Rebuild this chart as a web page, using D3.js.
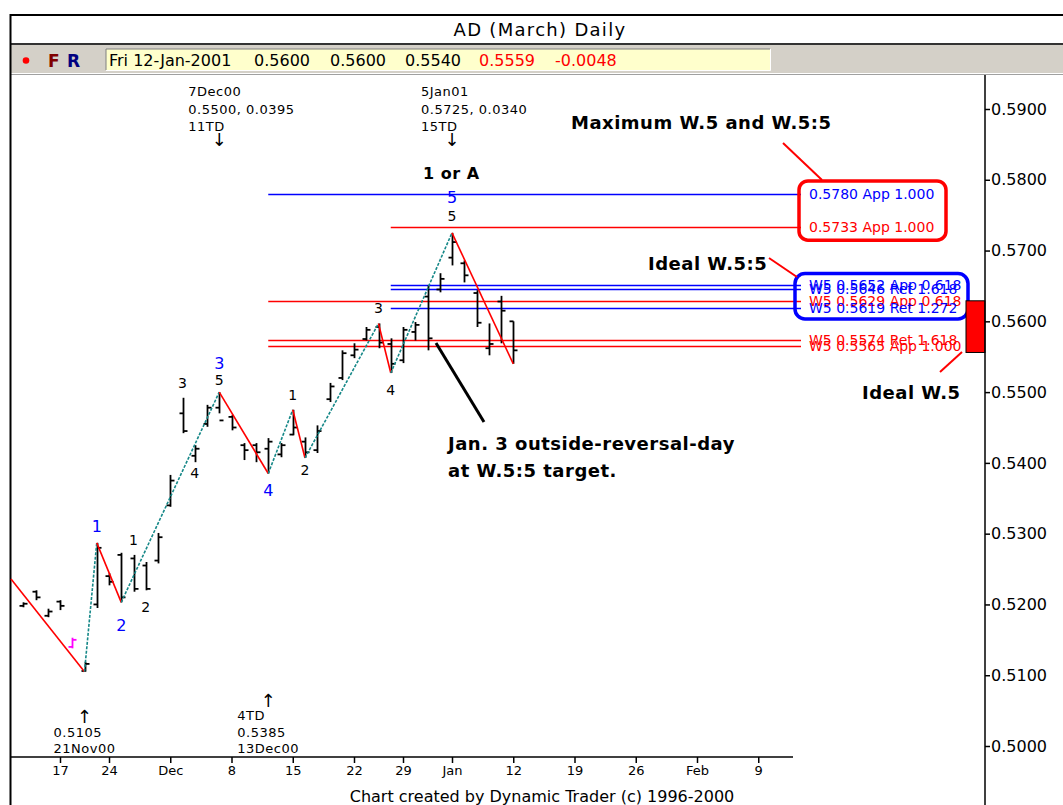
<!DOCTYPE html>
<html>
<head>
<meta charset="utf-8">
<script src="https://cdn.jsdelivr.net/npm/d3@7"></script>
<style>
body { margin: 0; background: #fff; }
svg { display: block; font-family: "DejaVu Sans", sans-serif; }
</style>
</head>
<body>
<script>
// daily bars, AD March contract
const barDates = ["2000-11-14","2000-11-15","2000-11-16","2000-11-17","2000-11-20","2000-11-21","2000-11-22","2000-11-24",
  "2000-11-27","2000-11-28","2000-11-29","2000-11-30","2000-12-01","2000-12-04","2000-12-05","2000-12-06","2000-12-07",
  "2000-12-08","2000-12-11","2000-12-12","2000-12-13","2000-12-14","2000-12-15","2000-12-18","2000-12-19","2000-12-20",
  "2000-12-21","2000-12-22","2000-12-26","2000-12-27","2000-12-28","2000-12-29","2001-01-02","2001-01-03","2001-01-04",
  "2001-01-05","2001-01-08","2001-01-09","2001-01-10","2001-01-11","2001-01-12"];
const opens  = [.5198,.5218,.5184,.5204,.5140,.5106,.5200,.5240,.5270,.5265,.5255,.5262,.5340,.5470,.5410,.5455,.5478,
  .5465,.5425,.5425,.5420,.5412,.5440,.5430,.5418,.5490,.5520,.5552,.5575,.5592,.5568,.5545,.5585,.5635,.5645,
  .5690,.5682,.5640,.5562,.5628,.5600];
const highs  = [.5203,.5220,.5194,.5206,.5153,.5119,.5287,.5244,.5273,.5270,.5260,.5301,.5383,.5492,.5425,.5482,.5500,
  .5468,.5428,.5428,.5435,.5428,.5475,.5436,.5453,.5513,.5559,.5569,.5592,.5597,.5576,.5592,.5599,.5651,.5668,
  .5725,.5686,.5644,.5597,.5636,.5600];
const lows   = [.5196,.5206,.5182,.5192,.5138,.5105,.5195,.5227,.5203,.5218,.5220,.5258,.5338,.5442,.5401,.5451,.5470,
  .5446,.5404,.5401,.5385,.5408,.5439,.5407,.5414,.5486,.5517,.5548,.5573,.5562,.5527,.5541,.5573,.5559,.5641,
  .5679,.5655,.5592,.5552,.5569,.5540];
const closes = [.5201,.5210,.5190,.5198,.5150,.5116,.5280,.5232,.5210,.5222,.5222,.5295,.5375,.5445,.5420,.5478,.5460,
  .5450,.5418,.5415,.5430,.5425,.5450,.5415,.5445,.5508,.5555,.5560,.5588,.5570,.5540,.5588,.5595,.5576,.5660,
  .5712,.5665,.5598,.5568,.5615,.5559];
const markedBar = "2000-11-20";

const holidays = ["2000-11-23","2000-12-25","2001-01-01"];

// swing zigzag
const swingDates  = ["2000-11-13","2000-11-21","2000-11-22","2000-11-27","2000-12-07","2000-12-13","2000-12-15",
  "2000-12-18","2000-12-27","2000-12-28","2001-01-05","2001-01-12"];
const swingPrices = [.5236,.5105,.5287,.5203,.5500,.5385,.5475,.5407,.5597,.5527,.5725,.5540];

// wave counts (date, price where the label sits, text, colour)
const waveDates  = ["2000-11-22","2000-11-27","2000-12-07","2000-12-13","2001-01-05",
  "2000-11-28","2000-11-29","2000-12-04","2000-12-05","2000-12-07","2000-12-15","2000-12-18","2000-12-27","2000-12-28","2001-01-05"];
const wavePrices = [.5311,.5170,.5541,.5362,.5776, .5291,.5196,.5513,.5386,.5517,.5496,.5390,.5619,.5503,.5749];
const waveTexts  = ["1","2","3","4","5", "1","2","3","4","5","1","2","3","4","5"];
const waveBlue   = [1,1,1,1,1, 0,0,0,0,0,0,0,0,0,0];

// projection levels
const levelValues = [.5780,.5733,.5652,.5646,.5629,.5619,.5574,.5565];
const levelColors = ["#0000ff","#ff0000","#0000ff","#0000ff","#ff0000","#0000ff","#ff0000","#ff0000"];
const levelStart  = ["2000-12-13","2000-12-28","2000-12-28","2000-12-28","2000-12-13","2000-12-28","2000-12-13","2000-12-13"];
const levelLabels = ["0.5780 App 1.000","0.5733 App 1.000","W5 0.5652 App 0.618","W5 0.5646 Ret 1.618",
  "W5 0.5629 App 0.618","W5 0.5619 Ret 1.272","W5 0.5574 Ret 1.618","W5 0.5565 App 1.000"];
const idealZone = [.5556, .5629];

const xTickDates  = ["2000-11-17","2000-11-24","2000-12-01","2000-12-08","2000-12-15","2000-12-22","2000-12-29",
  "2001-01-05","2001-01-12","2001-01-19","2001-01-26","2001-02-02","2001-02-09"];
const xTickLabels = ["17","24","Dec","8","15","22","29","Jan","12","19","26","Feb","9"];
const yTicks = [.50,.51,.52,.53,.54,.55,.56,.57,.58,.59];

const infoTexts  = ["Fri 12-Jan-2001","0.5600","0.5600","0.5540","0.5559","-0.0048"];
const infoColors = ["#000","#000","#000","#000","#f00","#f00"];

const W = 1063, H = 805;
const svg = d3.select("body").append("svg").attr("width", W).attr("height", H);
svg.append("rect").attr("width", W).attr("height", H).attr("fill", "#fff");

// trading-day calendar
const fmt = d3.timeFormat("%Y-%m-%d");
const tradingDays = d3.timeDay.range(new Date(2000, 10, 13), new Date(2001, 1, 10))
  .filter(d => d.getDay() != 0 && d.getDay() != 6)
  .map(fmt)
  .filter(d => holidays.indexOf(d) < 0);

let x = d3.scalePoint().domain(tradingDays).range([11, 758.25]);
let y = d3.scaleLinear().domain([0.50, 0.59]).range([746, 109]);

// ---- header ----
svg.append("rect").attr("x", 11).attr("y", 44).attr("width", W - 11).attr("height", 29).attr("fill", "#d4d0c8");
svg.append("line").attr("x1", 10).attr("x2", W).attr("y1", 15).attr("y2", 15).attr("stroke", "#000").attr("stroke-width", 2);
svg.append("line").attr("x1", 11).attr("x2", W).attr("y1", 44).attr("y2", 44).attr("stroke", "#333").attr("stroke-width", 2);
svg.append("line").attr("x1", 11).attr("x2", W).attr("y1", 74.5).attr("y2", 74.5).attr("stroke", "#a0a0a0").attr("stroke-width", 1);
svg.append("text").attr("x", 540).attr("y", 36).attr("text-anchor", "middle")
  .attr("font-size", 18).attr("letter-spacing", 1.3).text("AD (March) Daily");

svg.append("circle").attr("cx", 26).attr("cy", 60.5).attr("r", 3.3).attr("fill", "#f00");
svg.append("text").attr("x", 48).attr("y", 67).attr("font-size", 17).attr("font-weight", "bold").attr("fill", "#800000").text("F");
svg.append("text").attr("x", 67).attr("y", 67).attr("font-size", 17).attr("font-weight", "bold").attr("fill", "#000080").text("R");

svg.append("rect").attr("x", 106).attr("y", 49).attr("width", 664).attr("height", 21).attr("fill", "#ffffcc");
svg.append("path").attr("d", "M106,70V49H770").attr("fill", "none").attr("stroke", "#808080");
svg.append("path").attr("d", "M106,70.5H770.5V49").attr("fill", "none").attr("stroke", "#fff");
const infoX = [109, 254, 330, 405, 479, 555];
infoTexts.forEach((t, i) => {
  svg.append("text").attr("x", infoX[i]).attr("y", 66).attr("font-size", 16).attr("fill", infoColors[i]).text(t);
});

// frame
svg.append("line").attr("x1", 10.5).attr("x2", 10.5).attr("y1", 14).attr("y2", H).attr("stroke", "#000").attr("stroke-width", 2);

// ---- projection levels ----
const levelEnd = 801;
levelValues.forEach((v, i) => {
  let ly = Math.round(y(v)) + 0.5;
  svg.append("line").attr("x1", x(levelStart[i])).attr("x2", levelEnd)
    .attr("y1", ly).attr("y2", ly)
    .attr("stroke", levelColors[i]).attr("stroke-width", 1.5);
  svg.append("text").attr("x", 809).attr("y", y(v)).attr("dy", "0.36em")
    .attr("font-size", 14).attr("fill", levelColors[i]).text(levelLabels[i]);
});

// boxes round the targets
svg.append("rect").attr("x", 799).attr("y", y(.5780) - 13).attr("width", 147)
  .attr("height", y(.5733) - y(.5780) + 26).attr("rx", 9)
  .attr("fill", "none").attr("stroke", "#f00").attr("stroke-width", 3.5);
svg.append("rect").attr("x", 795).attr("y", y(.5652) - 11).attr("width", 173)
  .attr("height", y(.5619) - y(.5652) + 22).attr("rx", 10)
  .attr("fill", "none").attr("stroke", "#00f").attr("stroke-width", 3.5);

// ideal zone on the price axis
svg.append("rect").attr("x", 966).attr("y", y(idealZone[1])).attr("width", 19)
  .attr("height", y(idealZone[0]) - y(idealZone[1]))
  .attr("fill", "#f00").attr("stroke", "#000").attr("stroke-width", 1);

// ---- bars ----
const bars = svg.append("g").attr("stroke-width", 1.8);
barDates.forEach((d, i) => {
  let cx = Math.round(x(d)) + 0.5;
  let col = d === markedBar ? "#ff00ff" : "#000";
  let g = bars.append("g").attr("stroke", col);
  g.append("line").attr("x1", cx).attr("x2", cx).attr("y1", y(highs[i])).attr("y2", y(lows[i]));
  g.append("line").attr("x1", cx - 4).attr("x2", cx).attr("y1", y(opens[i])).attr("y2", y(opens[i]));
  g.append("line").attr("x1", cx).attr("x2", cx + 4).attr("y1", y(closes[i])).attr("y2", y(closes[i]));
});

// ---- zigzag ----
for (let i = 1; i < swingDates.length; i++) {
  let up = swingPrices[i] > swingPrices[i - 1];
  svg.append("line")
    .attr("x1", x(swingDates[i - 1])).attr("y1", y(swingPrices[i - 1]))
    .attr("x2", x(swingDates[i])).attr("y2", y(swingPrices[i]))
    .attr("stroke", up ? "#168888" : "#ff0000")
    .attr("stroke-width", 1.6)
    .attr("stroke-dasharray", up ? "3,1.5" : null);
}

// wave labels
waveDates.forEach((d, i) => {
  svg.append("text").attr("x", x(d)).attr("y", y(wavePrices[i])).attr("dy", "0.36em")
    .attr("text-anchor", "middle").attr("font-size", waveBlue[i] ? 16 : 14)
    .attr("fill", waveBlue[i] ? "#0000ff" : "#000").text(waveTexts[i]);
});

// ---- pivot notes ----
function note(date, lines, arrowTop) {
  let px = x(date);
  let left = px - 31;
  if (arrowTop) {
    lines.forEach((t, i) => {
      svg.append("text").attr("x", left).attr("y", 96 + i * 17.5).attr("font-size", 13).attr("letter-spacing", 0.5).text(t);
    });
    svg.append("text").attr("x", px).attr("y", 146).attr("text-anchor", "middle").attr("font-size", 18).text("\u2193");
  } else {
    let n = lines.length;
    lines.forEach((t, i) => {
      svg.append("text").attr("x", left).attr("y", 753 - (n - 1 - i) * 16.5).attr("font-size", 13).attr("letter-spacing", 0.5).text(t);
    });
    svg.append("text").attr("x", px).attr("y", 753 - n * 16.5 + 3).attr("text-anchor", "middle").attr("font-size", 18).text("\u2191");
  }
}
note("2000-12-07", ["7Dec00", "0.5500, 0.0395", "11TD"], true);
note("2001-01-05", ["5Jan01", "0.5725, 0.0340", "15TD"], true);
note("2000-11-21", ["0.5105", "21Nov00"], false);
note("2000-12-13", ["4TD", "0.5385", "13Dec00"], false);

// ---- commentary ----
function bold(tx, ty, t, size) {
  svg.append("text").attr("x", tx).attr("y", ty).attr("font-size", size || 18).attr("font-weight", "bold")
    .attr("letter-spacing", 0.5).text(t);
}
bold(423, 179, "1 or A", 16);
bold(571, 129, "Maximum W.5 and W.5:5");
bold(648, 270, "Ideal W.5:5");
bold(862, 399, "Ideal W.5");
bold(448, 450, "Jan. 3 outside-reversal-day");
bold(448, 477, "at W.5:5 target.");

const conn = svg.append("g").attr("stroke", "#f00").attr("stroke-width", 2);
conn.append("line").attr("x1", 783).attr("y1", 143).attr("x2", 822).attr("y2", 180);
conn.append("line").attr("x1", 769).attr("y1", 258).attr("x2", 797).attr("y2", 277);
conn.append("line").attr("x1", 962).attr("y1", 352).attr("x2", 940).attr("y2", 372);
svg.append("line").attr("x1", 436).attr("y1", 343).attr("x2", 484).attr("y2", 422)
  .attr("stroke", "#000").attr("stroke-width", 3);

// ---- axes ----
let xAxis = d3.axisBottom(x).tickValues(xTickDates).tickFormat((d, i) => xTickLabels[i])
  .tickSize(6).tickPadding(3).tickSizeOuter(0);
let gx = svg.append("g").attr("transform", "translate(0,757)").call(xAxis);
gx.select(".domain").remove();
gx.selectAll(".tick line").attr("stroke", "#000").attr("stroke-width", 1.5);
gx.selectAll("text").attr("font-family", "DejaVu Sans").attr("font-size", 13).attr("fill", "#000");
svg.append("line").attr("x1", 11).attr("x2", 793).attr("y1", 757).attr("y2", 757).attr("stroke", "#000").attr("stroke-width", 1.5);

let yAxis = d3.axisRight(y).tickValues(yTicks).tickFormat(d3.format(".4f")).tickSize(5).tickPadding(1);
let gy = svg.append("g").attr("transform", "translate(985,0)").call(yAxis);
gy.select(".domain").remove();
gy.selectAll(".tick line").attr("stroke", "#000").attr("stroke-width", 1.5);
gy.selectAll("text").attr("font-family", "DejaVu Sans").attr("font-size", 16).attr("fill", "#000");
svg.append("line").attr("x1", 985).attr("x2", 985).attr("y1", 75).attr("y2", H).attr("stroke", "#000").attr("stroke-width", 1.5);

svg.append("text").attr("x", 542).attr("y", 802).attr("text-anchor", "middle").attr("font-size", 16)
  .text("Chart created by Dynamic Trader (c) 1996-2000");
</script>
</body>
</html>
